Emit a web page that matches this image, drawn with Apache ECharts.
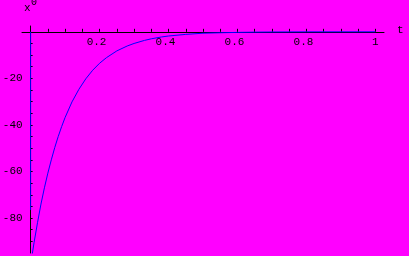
<!DOCTYPE html>
<html><head><meta charset="utf-8">
<script src="https://cdn.jsdelivr.net/npm/echarts@6/dist/echarts.min.js"></script>
<style>html,body{margin:0;padding:0;background:#ff00ff}#c{width:409px;height:256px}</style>
</head><body><div id="c"></div>
<script>
// curve x(t)
var tValues = [0, 0.01, 0.02, 0.03, 0.04, 0.05, 0.06, 0.07, 0.08, 0.09, 0.10, 0.12, 0.14, 0.16, 0.18, 0.20, 0.22, 0.25, 0.28, 0.30, 0.33, 0.35, 0.38, 0.40, 0.45, 0.50, 0.55, 0.60, 0.65, 0.70, 0.80, 0.90, 1.00];
var xValues = [-100, -90.5, -82, -74, -67, -60.7, -55, -49.7, -45, -40.7, -36.8, -30.1, -24.7, -20.2, -16.5, -13.5, -11.1, -8.2, -6.1, -5.0, -3.7, -3.0, -2.2, -1.8, -1.1, -0.6, -0.4, -0.25, -0.15, -0.08, -0.03, -0.01, 0];
// blue stroke lying along the vertical axis
var axisStrokeT = [0, 0];
var axisStrokeX = [0, -76.5];
var xTickValues = [0.05,0.1,0.15,0.2,0.25,0.3,0.35,0.4,0.45,0.5,0.55,0.6,0.65,0.7,0.75,0.8,0.85,0.9,0.95,1];
var xLabelValues = [0.2, 0.4, 0.6, 0.8, 1];
var yTickValues = [-5,-10,-15,-20,-25,-30,-35,-40,-45,-50,-55,-60,-65,-70,-75,-80,-85,-90];
var yLabelValues = [-20, -40, -60, -80];

var curve = tValues.map(function(t,i){return [t, xValues[i]];});
var stroke = axisStrokeT.map(function(t,i){return [t, axisStrokeX[i]];});
var font = '"Liberation Mono", "DejaVu Sans Mono", monospace';
var gridTop = 26, gridLeft = 22, gridRight = 25;
var chart = echarts.init(document.getElementById('c'));
var plotW = 409 - gridLeft - gridRight;
var xMin = -0.025, xMax = 1.025, yMin = -95, yMax = 2.5;
var zeroXpx = plotW * (0 - xMin) / (xMax - xMin);
var zeroYpx = (256 - gridTop - 3) * (yMax - 0) / (yMax - yMin);
chart.setOption({
  backgroundColor: '#ff00ff',
  animation: false,
  grid: {left: gridLeft, right: gridRight, top: gridTop, bottom: 3, containLabel: false, outerBoundsMode: 'none'},
  xAxis: {
    type: 'value', min: xMin, max: xMax, position: 'top', offset: -zeroYpx,
    axisLine: {onZero: false, lineStyle: {color: '#000', width: 1}},
    axisTick: {show: true, inside: false, length: 3, customValues: xTickValues, lineStyle: {color: '#000'}},
    axisLabel: {customValues: xLabelValues, inside: true, color: '#000', fontFamily: font, fontSize: 11, margin: 5,
      formatter: function(v){ return v === 1 ? '{b|1}' : '{a|' + v + '}'; },
      rich: {a: {fontFamily: font, fontSize: 11, color: '#000', padding: [0,6,0,0]}, b: {fontFamily: font, fontSize: 11, color: '#000'}}},
    splitLine: {show: false}
  },
  yAxis: {
    type: 'value', min: yMin, max: yMax, position: 'left', offset: -zeroXpx,
    axisLine: {onZero: false, lineStyle: {color: '#000', width: 1}},
    axisTick: {show: true, inside: true, length: 2, customValues: yTickValues, lineStyle: {color: '#000'}},
    axisLabel: {customValues: yLabelValues, color: '#000', fontFamily: font, fontSize: 11, margin: 8},
    splitLine: {show: false}
  },
  series: [
    {type: 'line', data: stroke, symbol: 'none', clip: true, lineStyle: {color: '#0000ff', width: 1}},
    {type: 'line', data: curve, symbol: 'none', smooth: false, clip: true, lineStyle: {color: '#0000ff', width: 1}}
  ],
  graphic: [
    {type: 'text', left: 24, top: 3, style: {text: 'x', font: '11px ' + font, fill: '#000'}},
    {type: 'text', left: 31, top: -3, style: {text: '0', font: '10px ' + font, fill: '#000'}},
    {type: 'text', left: 397, top: 25, style: {text: 't', font: '11px ' + font, fill: '#000'}}
  ]
});
</script></body></html>
